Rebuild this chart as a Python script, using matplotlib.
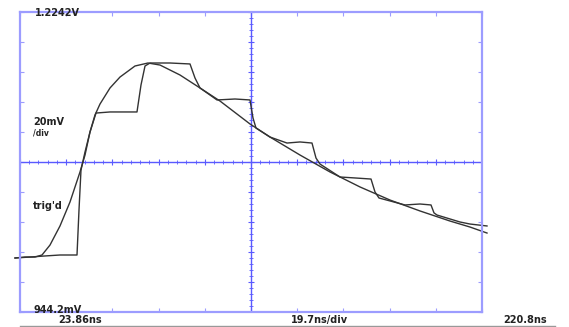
import numpy as np
import matplotlib.pyplot as plt

# scope settings
t_start, t_end = 23.86, 220.8      # ns
v_bot, v_top = 944.2, 1224.2       # mV

# smooth (reference) trace
smooth_t = [21.73, 25.99, 30.25, 33.24, 36.65, 40.91, 45.18, 49.44, 51.57, 53.70,
            55.83, 57.96, 62.23, 66.49, 72.88, 78.42, 83.54, 92.06, 100.59, 109.12,
            121.90, 130.43, 143.22, 156.00, 168.80, 181.58, 194.37, 207.16, 215.69, 222.93]
smooth_v = [994.6, 995.5, 995.5, 997.4, 1006.7, 1024.5, 1046.9, 1074.9, 1090.7, 1112.2,
            1128.1, 1138.3, 1153.3, 1163.5, 1173.8, 1176.6, 1174.7, 1165.4, 1153.3, 1141.1,
            1119.7, 1107.5, 1090.7, 1074.9, 1060.9, 1048.7, 1038.5, 1029.1, 1023.5, 1017.9]

# staircase trace
stair_t = [21.73, 28.12, 34.52, 40.91, 48.16, 49.01, 49.86, 51.57, 53.70, 56.26,
           62.23, 73.73, 75.44, 77.15, 79.28, 87.80, 96.33, 98.46, 100.59, 107.84,
           115.51, 121.90, 123.18, 124.46, 130.43, 137.68, 143.22, 148.33, 150.04, 151.74,
           160.27, 166.67, 173.49, 175.19, 176.89, 187.98, 194.37, 199.06, 200.34, 201.62,
           211.42, 215.69, 222.93]
stair_v = [994.6, 995.5, 996.5, 997.4, 997.4, 1039.4, 1076.7, 1093.5, 1112.2, 1129.9,
           1130.9, 1130.9, 1156.1, 1173.8, 1176.6, 1176.6, 1175.7, 1162.6, 1153.3, 1142.1,
           1143.0, 1142.1, 1125.3, 1115.9, 1107.5, 1101.9, 1102.9, 1101.9, 1087.9, 1082.3,
           1070.2, 1069.3, 1068.3, 1056.2, 1050.6, 1044.1, 1045.0, 1044.1, 1036.7, 1034.7,
           1028.2, 1026.3, 1024.5]

fig = plt.figure(figsize=(5.69, 3.27), dpi=100)
ax = fig.add_axes([20 / 569, 15 / 327, 462 / 569, 300 / 327])
ax.set_xlim(t_start, t_end)
ax.set_ylim(v_bot, v_top)

frame = '#9c9cff'
center = '#5a5aff'
for s in ax.spines.values():
    s.set_color(frame)
    s.set_linewidth(1.6)

xdiv = (t_end - t_start) / 10
ydiv = (v_top - v_bot) / 10
xt = t_start + xdiv * np.arange(11)
yt = v_bot + ydiv * np.arange(11)
ax.set_xticks(xt)
ax.set_yticks(yt)
ax.set_xticklabels([])
ax.set_yticklabels([])
ax.tick_params(direction='in', length=3, color=frame, width=0.8,
               top=True, right=True)

xm = (t_start + t_end) / 2
ym = (v_bot + v_top) / 2
ax.axvline(xm, color=center, lw=1.0)
ax.axhline(ym, color=center, lw=1.0)
# small graticule marks on the center lines
minor_x = t_start + xdiv / 5 * np.arange(51)
minor_y = v_bot + ydiv / 5 * np.arange(51)
ax.plot(minor_x, np.full_like(minor_x, ym), '|', color=center, ms=2.5, mew=0.6)
ax.plot(xt, np.full_like(xt, ym), '|', color=center, ms=5, mew=0.8)
ax.plot(np.full_like(minor_y, xm), minor_y, '_', color=center, ms=2.5, mew=0.6)
ax.plot(np.full_like(yt, xm), yt, '_', color=center, ms=5, mew=0.8)

ax.plot(smooth_t, smooth_v, color='#333333', lw=1.0, clip_on=False)
ax.plot(stair_t, stair_v, color='#333333', lw=1.0, clip_on=False)

tk = dict(fontsize=7, fontweight='bold', color='#222222')
fig.text(35 / 569, 1 - 13 / 327, '1.2242V', va='center', ha='left', **tk)
fig.text(33 / 569, 1 - 122 / 327, '20mV', va='center', ha='left', **tk)
fig.text(33 / 569, 1 - 133 / 327, '/div', va='center', ha='left', fontsize=5.5,
         fontweight='bold', color='#222222')
fig.text(33 / 569, 1 - 206 / 327, "trig'd", va='center', ha='left', **tk)
fig.text(33 / 569, 1 - 310 / 327, '944.2mV', va='center', ha='left', **tk)
fig.text(80 / 569, 1 - 320 / 327, '23.86ns', va='center', ha='center', **tk)
fig.text(320 / 569, 1 - 320 / 327, '19.7ns/div', va='center', ha='center', **tk)
fig.text(525 / 569, 1 - 320 / 327, '220.8ns', va='center', ha='center', **tk)
fig.add_artist(plt.Line2D([20 / 569, 555 / 569], [1 - 325.5 / 327] * 2,
                          color='#999999', lw=1.0))

fig.savefig('out.png', dpi=100)
